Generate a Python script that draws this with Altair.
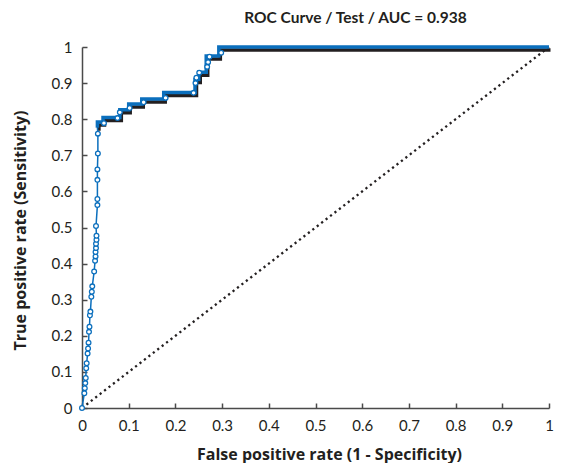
import altair as alt
import pandas as pd

BLUE = "#0b6fbd"
BLACK = "#231f20"
AXIS = "#4a4a4a"
TXT = "#231f20"
FONT = "Lato"
TFONT = "Open Sans"

title_text = "ROC Curve / Test / AUC = 0.938"
x_title = "False positive rate (1 - Specificity)"
y_title = "True positive rate (Sensitivity)"
tick_values = [0, 0.1, 0.2, 0.3, 0.4, 0.5, 0.6, 0.7, 0.8, 0.9, 1]

# near-vertical rise (thin line with open markers)
rise_fpr = [0.000, 0.005, 0.006, 0.007, 0.008, 0.009, 0.010, 0.012, 0.013, 0.014,
            0.015, 0.016, 0.017, 0.018, 0.020, 0.021, 0.022, 0.026, 0.028, 0.029,
            0.029, 0.030, 0.030, 0.031, 0.031, 0.030, 0.033, 0.033, 0.033, 0.033,
            0.034, 0.034]
rise_tpr = [0.000, 0.041, 0.055, 0.069, 0.083, 0.110, 0.124, 0.151, 0.165, 0.181,
            0.211, 0.225, 0.257, 0.267, 0.308, 0.322, 0.337, 0.378, 0.408, 0.420,
            0.432, 0.443, 0.455, 0.466, 0.477, 0.504, 0.562, 0.579, 0.632, 0.661,
            0.705, 0.760]

# markers on the stepped part
stepmark_fpr = [0.047, 0.076, 0.081, 0.102, 0.132, 0.179, 0.239, 0.243, 0.245,
                0.251, 0.268, 0.270, 0.273, 0.298]
stepmark_tpr = [0.789, 0.803, 0.819, 0.831, 0.847, 0.859, 0.873, 0.900, 0.915,
                0.929, 0.945, 0.958, 0.973, 0.984]

# thick step curve (step-after)
step_fpr = [0.033, 0.033, 0.045, 0.081, 0.100, 0.128, 0.175, 0.242, 0.250, 0.266, 0.293, 1.000]
step_tpr = [0.776, 0.792, 0.805, 0.826, 0.842, 0.856, 0.874, 0.910, 0.930, 0.975, 1.000, 1.000]

# chance diagonal
diag_fpr = [0, 1]
diag_tpr = [0, 1]

thin_df = pd.DataFrame({
    "fpr": rise_fpr + [step_fpr[0]],
    "tpr": rise_tpr + [step_tpr[0]],
})
thin_df["idx"] = range(len(thin_df))
mark_df = pd.DataFrame({"fpr": rise_fpr + stepmark_fpr, "tpr": rise_tpr + stepmark_tpr})
step_df = pd.DataFrame({"fpr": step_fpr, "tpr": step_tpr})
step_df["idx"] = range(len(step_df))
diag_df = pd.DataFrame({"fpr": diag_fpr, "tpr": diag_tpr})

common_axis = dict(
    values=tick_values, format="~g", grid=False,
    domainColor=AXIS, domainWidth=1.5,
    tickColor=AXIS, tickWidth=1.5, tickSize={"expr": "-5"},
    labelPadding=15, labelFontSize=15, labelFont=FONT, labelColor=TXT,
    labelFlush=False, labelOverlap=False,
    titleFont=TFONT, titleFontSize=16, titleFontWeight="bold", titleColor=TXT,
)

x_enc = alt.X("fpr:Q", scale=alt.Scale(domain=[0, 1], nice=False),
              axis=alt.Axis(title=x_title, titleX=247, titleY=51,
                            titleBaseline="alphabetic", titleAlign="center", **common_axis))
y_enc = alt.Y("tpr:Q", scale=alt.Scale(domain=[0, 1], nice=False),
              axis=alt.Axis(title=y_title, titleX=-57, titleY=183, titleAngle=270,
                            titleBaseline="alphabetic", titleAlign="center", **common_axis))

diag = alt.Chart(diag_df).mark_line(
    color=BLACK, strokeWidth=2.3, strokeDash=[2.2, 3.4]
).encode(x=x_enc, y=y_enc)

shadow = alt.Chart(step_df).mark_line(
    interpolate="step-after", color=BLACK, strokeWidth=3.5, xOffset=1.5, yOffset=3
).encode(x=x_enc, y=y_enc, order="idx:Q")

blue_step = alt.Chart(step_df).mark_line(
    interpolate="step-after", color=BLUE, strokeWidth=3.5
).encode(x=x_enc, y=y_enc, order="idx:Q")

thin = alt.Chart(thin_df).mark_line(color=BLUE, strokeWidth=1.5).encode(
    x=x_enc, y=y_enc, order="idx:Q")

pts = alt.Chart(mark_df).mark_point(
    shape="circle", filled=True, fill="white", stroke=BLUE, strokeWidth=1.3,
    size=22, opacity=1
).encode(x=x_enc, y=y_enc)

chart = alt.layer(diag, shadow, blue_step, thin, pts).properties(
    width=467, height=361,
    autosize=alt.AutoSizeParams(type="none"),
    padding={"left": 74, "top": 39, "right": 5, "bottom": 55},
    title=alt.TitleParams(title_text, font=FONT, fontSize=15.5, fontWeight="bold",
                          color=TXT, anchor="middle", dx=40, offset=14),
).configure_view(stroke=None)

chart.save("out.html", embed_options={"renderer": "svg", "actions": False})
